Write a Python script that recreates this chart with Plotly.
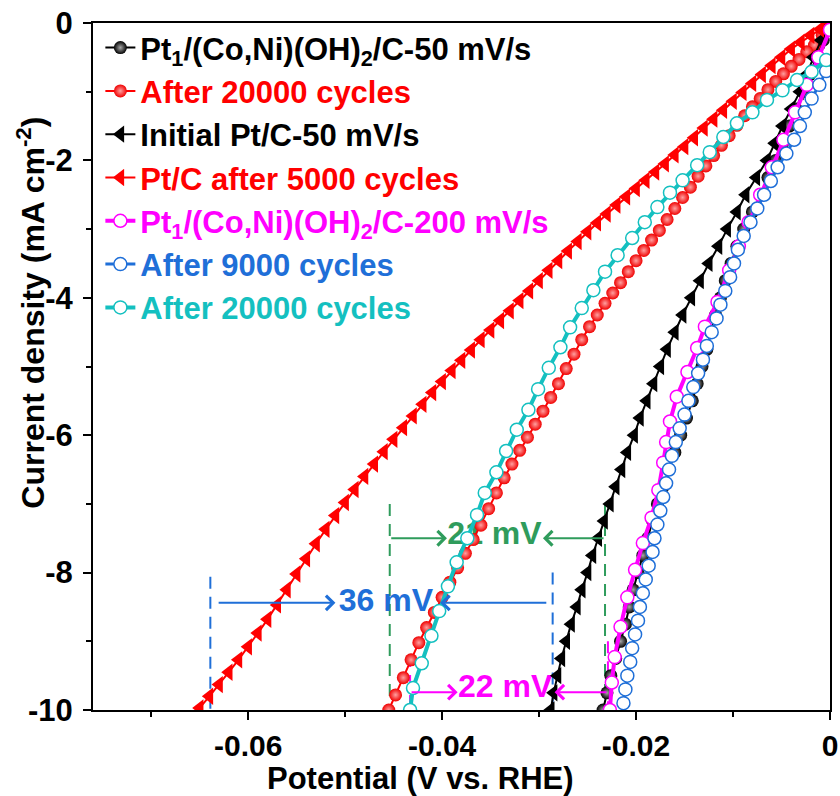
import plotly.graph_objects as go

FONT = "Liberation Sans, Arial, sans-serif"

# ---------------- data (potential V vs RHE, current density mA cm-2) ----------------
# Pt1/(Co,Ni)(OH)2/C-50 mV/s  (black spheres)
pt1_50_j = [0, -0.25, -0.5, -0.75, -1.0, -1.25, -1.5, -1.75, -2.0, -2.25, -2.5, -2.75, -3.0, -3.25,
            -3.5, -3.75, -4.0, -4.25, -4.5, -4.75, -5.0, -5.25, -5.5, -5.75, -6.0, -6.25, -6.5, -6.75,
            -7.0, -7.25, -7.5, -7.75, -8.0, -8.25, -8.5, -8.75, -9.0, -9.25, -9.5, -9.75, -10.0]
pt1_50_v = [0.0, -0.0007, -0.0014, -0.0021, -0.0028, -0.0035, -0.0042, -0.0049, -0.0056, -0.0064,
            -0.0071, -0.0080, -0.0089, -0.0096, -0.0102, -0.0108, -0.0113, -0.0118, -0.0123, -0.0127,
            -0.0132, -0.0137, -0.0142, -0.0148, -0.0154, -0.0160, -0.0166, -0.0172, -0.0178, -0.0183,
            -0.0188, -0.0193, -0.0198, -0.0203, -0.0207, -0.0211, -0.0216, -0.0221, -0.0226, -0.0230,
            -0.0234]

# After 20000 cycles (red spheres)
pt1_20k_v = [0.0, -0.0008, -0.0016, -0.0024, -0.0032, -0.0040, -0.0048, -0.0056, -0.0064, -0.0072,
             -0.0080, -0.0088, -0.0096, -0.0104, -0.0112, -0.0120, -0.0128, -0.0136, -0.0144, -0.0152,
             -0.0160, -0.0168, -0.0176, -0.0184, -0.0192, -0.0200, -0.0208, -0.0216, -0.0224, -0.0232,
             -0.0240, -0.0248, -0.0256, -0.0264, -0.0272, -0.0280, -0.0288, -0.0296, -0.0304, -0.0312,
             -0.0320, -0.0328, -0.0336, -0.0344, -0.0352, -0.0360, -0.0368, -0.0376, -0.0384, -0.0392,
             -0.0400, -0.0408, -0.0416, -0.0424, -0.0432, -0.0440, -0.0448, -0.0455]
pt1_20k_j = [-0.05, -0.18, -0.32, -0.42, -0.53, -0.63, -0.74, -0.85, -0.97, -1.10,
             -1.22, -1.35, -1.49, -1.64, -1.78, -1.93, -2.08, -2.23, -2.39, -2.54,
             -2.70, -2.86, -3.02, -3.16, -3.31, -3.46, -3.62, -3.78, -3.93, -4.08,
             -4.25, -4.42, -4.61, -4.82, -5.03, -5.25, -5.45, -5.65, -5.84, -6.03,
             -6.22, -6.42, -6.62, -6.84, -7.07, -7.31, -7.52, -7.72, -7.93, -8.14,
             -8.36, -8.58, -8.80, -9.02, -9.27, -9.53, -9.78, -10.0]

# Initial Pt/C-50 mV/s (black triangles)
ptc_j = [0, -0.25, -0.5, -0.75, -1.0, -1.25, -1.5, -1.75, -2.0, -2.25, -2.5, -2.75, -3.0, -3.25,
         -3.5, -3.75, -4.0, -4.25, -4.5, -4.75, -5.0, -5.25, -5.5, -5.75, -6.0, -6.25, -6.5, -6.75,
         -7.0, -7.25, -7.5, -7.75, -8.0, -8.25, -8.5, -8.75, -9.0, -9.25, -9.5, -9.75, -10.0]
ptc_v = [0.0, -0.0009, -0.0017, -0.0024, -0.0031, -0.0040, -0.0049, -0.0057, -0.0065, -0.0076,
         -0.0087, -0.0096, -0.0106, -0.0115, -0.0125, -0.0134, -0.0143, -0.0152, -0.0160, -0.0168,
         -0.0175, -0.0182, -0.0189, -0.0196, -0.0202, -0.0209, -0.0215, -0.0221, -0.0227, -0.0233,
         -0.0239, -0.0245, -0.0250, -0.0256, -0.0261, -0.0267, -0.0272, -0.0277, -0.0281, -0.0285,
         -0.0288]

# Pt/C after 5000 cycles (red triangles)
ptc_5k_v = [0.0, -0.001, -0.002, -0.003, -0.004, -0.005, -0.006, -0.007, -0.008, -0.009,
            -0.010, -0.011, -0.012, -0.013, -0.014, -0.015, -0.016, -0.017, -0.018, -0.019,
            -0.020, -0.021, -0.022, -0.023, -0.024, -0.025, -0.026, -0.027, -0.028, -0.029,
            -0.030, -0.031, -0.032, -0.033, -0.034, -0.035, -0.036, -0.037, -0.038, -0.039,
            -0.040, -0.041, -0.042, -0.043, -0.044, -0.045, -0.046, -0.047, -0.048, -0.049,
            -0.050, -0.051, -0.052, -0.053, -0.054, -0.055, -0.056, -0.057, -0.058, -0.059,
            -0.060, -0.061, -0.062, -0.063, -0.064, -0.065]
ptc_5k_j = [0.0, -0.09, -0.18, -0.28, -0.38, -0.50, -0.62, -0.75, -0.88, -1.01,
            -1.14, -1.27, -1.40, -1.53, -1.67, -1.80, -1.92, -2.05, -2.17, -2.29,
            -2.41, -2.53, -2.65, -2.78, -2.91, -3.04, -3.18, -3.32, -3.46, -3.60,
            -3.75, -3.90, -4.04, -4.19, -4.33, -4.47, -4.61, -4.76, -4.91, -5.06,
            -5.22, -5.38, -5.55, -5.72, -5.89, -6.06, -6.24, -6.42, -6.60, -6.79,
            -6.98, -7.17, -7.37, -7.58, -7.80, -8.02, -8.25, -8.47, -8.68, -8.88,
            -9.08, -9.27, -9.45, -9.63, -9.80, -9.97]

# Pt1/(Co,Ni)(OH)2/C-200 mV/s (magenta open circles)
pt1_200_v = [0.0, -0.0012, -0.0024, -0.0036, -0.0048, -0.0060, -0.0072, -0.0084, -0.0094, -0.0104,
             -0.0116, -0.0129, -0.0137, -0.0147, -0.0158, -0.0165, -0.0169, -0.0172, -0.0177, -0.0184,
             -0.0193, -0.0201, -0.0209, -0.0216, -0.0222, -0.0225, -0.0227]
pt1_200_j = [-0.10, -0.50, -0.90, -1.30, -1.70, -2.10, -2.50, -2.90, -3.25, -3.60,
             -4.06, -4.42, -4.73, -5.08, -5.44, -5.80, -6.10, -6.40, -6.80, -7.20,
             -7.57, -7.96, -8.36, -8.79, -9.23, -9.60, -10.0]

# After 9000 cycles (blue open circles)
pt1_9k_j = [-0.7, -0.9, -1.1, -1.3, -1.5, -1.7, -1.9, -2.1, -2.3, -2.5, -2.7, -2.9, -3.1, -3.3,
            -3.5, -3.7, -3.9, -4.1, -4.3, -4.5, -4.7, -4.9, -5.1, -5.3, -5.5, -5.7, -5.9, -6.1,
            -6.3, -6.5, -6.7, -6.9, -7.1, -7.3, -7.5, -7.7, -7.9, -8.1, -8.3, -8.5, -8.7, -8.9,
            -9.1, -9.3, -9.5, -9.7, -9.9]
pt1_9k_v = [-0.0004, -0.0011, -0.0019, -0.0026, -0.0031, -0.0037, -0.0045, -0.0054, -0.0061, -0.0068,
            -0.0075, -0.0082, -0.0089, -0.0095, -0.0099, -0.0103, -0.0108, -0.0113, -0.0117, -0.0122,
            -0.0127, -0.0131, -0.0136, -0.0141, -0.0146, -0.0150, -0.0155, -0.0159, -0.0163, -0.0166,
            -0.0169, -0.0172, -0.0175, -0.0178, -0.0181, -0.0183, -0.0187, -0.0190, -0.0193, -0.0196,
            -0.0198, -0.0201, -0.0204, -0.0206, -0.0209, -0.0211, -0.0213]

# After 20000 cycles, 200 mV/s (cyan open circles)
pt1_200_20k_v = [-0.0004, -0.0019, -0.0034, -0.0049, -0.0065, -0.0080, -0.0096, -0.0110, -0.0124, -0.0137,
                 -0.0152, -0.0165, -0.0178, -0.0191, -0.0204, -0.0219, -0.0232, -0.0244, -0.0256, -0.0268,
                 -0.0278, -0.0290, -0.0301, -0.0311, -0.0323, -0.0334, -0.0344, -0.0356, -0.0364, -0.0374,
                 -0.0385, -0.0394, -0.0403, -0.0411, -0.0421, -0.0430, -0.0433]
pt1_200_20k_j = [-0.54, -0.71, -0.83, -0.98, -1.12, -1.30, -1.46, -1.66, -1.88, -2.07,
                 -2.29, -2.47, -2.68, -2.90, -3.13, -3.38, -3.62, -3.89, -4.15, -4.43,
                 -4.72, -5.02, -5.33, -5.63, -5.92, -6.23, -6.54, -6.84, -7.16, -7.50,
                 -7.85, -8.20, -8.56, -8.92, -9.32, -9.68, -10.0]

# overpotential-gap annotations
gap_labels = ["36 mV", "21 mV", "22 mV"]
gap_left_v = [-0.0639, -0.0454, -0.0433]
gap_right_v = [-0.0286, -0.0232, -0.0229]
gap_left_top = [-8.06, -7.00, -9.20]
gap_right_top = [-8.00, -7.00, -9.00]
gap_arrow_j = [-8.44, -7.50, -9.74]
gap_left_tail = [-0.0632, -0.0454, -0.0433]
gap_left_head = [-0.0510, -0.0395, -0.0384]
gap_right_tail = [-0.0291, -0.0232, -0.0229]
gap_right_head = [-0.0402, -0.0296, -0.0284]
gap_text_v = [-0.0458, -0.0346, -0.0335]
gap_text_j = [-8.44, -7.47, -9.70]

# axis ticks
x_tickvals = [-0.06, -0.04, -0.02, 0]
x_ticktext = ["-0.06", "-0.04", "-0.02", "0"]
x_minor = [-0.07, -0.05, -0.03, -0.01]
y_tickvals = [0, -2, -4, -6, -8, -10]
y_ticktext = ["0", "-2", "-4", "-6", "-8", "-10"]
y_minor = [-1, -3, -5, -7, -9]

BLACK = "#000000"
RED = "#ff0000"
MAGENTA = "#ff00ff"
BLUE = "#1f6fd8"
CYAN = "#14c0c0"
GREEN = "#2f9c5c"
gap_colors = [BLUE, GREEN, MAGENTA]

fig = go.Figure()

# labels of the gaps (beneath curves)
for i in range(3):
    fig.add_trace(go.Scatter(
        x=[gap_text_v[i]], y=[gap_text_j[i]], mode="text", text=[gap_labels[i]],
        textfont=dict(family=FONT, size=32, color=gap_colors[i], weight="bold"),
        showlegend=False, hoverinfo="skip"))


def lbl(txt, col):
    return f'<span style="color:{col}">{txt}</span>'


fig.add_trace(go.Scatter(
    x=pt1_50_v, y=pt1_50_j, mode="lines+markers",
    name=lbl("Pt<sub>1</sub>/(Co,Ni)(OH)<sub>2</sub>/C-50 mV/s", BLACK),
    line=dict(color=BLACK, width=2),
    marker=dict(symbol="circle", size=13, color=BLACK,
                gradient=dict(type="radial", color="#a8a8a8"), line=dict(width=0))))

fig.add_trace(go.Scatter(
    x=pt1_20k_v, y=pt1_20k_j, mode="lines+markers",
    name=lbl("After 20000 cycles", RED),
    line=dict(color=RED, width=2),
    marker=dict(symbol="circle", size=13, color="#f00000",
                gradient=dict(type="radial", color="#ffa0a0"), line=dict(width=0))))

fig.add_trace(go.Scatter(
    x=ptc_v, y=ptc_j, mode="lines+markers",
    name=lbl("Initial Pt/C-50 mV/s", BLACK),
    line=dict(color=BLACK, width=2),
    marker=dict(symbol="triangle-left", size=15, color=BLACK, line=dict(width=0))))

fig.add_trace(go.Scatter(
    x=ptc_5k_v, y=ptc_5k_j, mode="lines+markers",
    name=lbl("Pt/C after 5000 cycles", RED),
    line=dict(color=RED, width=2),
    marker=dict(symbol="triangle-left", size=15, color=RED, line=dict(width=0))))

fig.add_trace(go.Scatter(
    x=pt1_200_v, y=pt1_200_j, mode="lines+markers",
    name=lbl("Pt<sub>1</sub>/(Co,Ni)(OH)<sub>2</sub>/C-200 mV/s", MAGENTA),
    line=dict(color=MAGENTA, width=4),
    marker=dict(symbol="circle", size=13, color="white", line=dict(color=MAGENTA, width=1.5))))

fig.add_trace(go.Scatter(
    x=pt1_9k_v, y=pt1_9k_j, mode="lines+markers",
    name=lbl("After 9000 cycles", BLUE),
    line=dict(color=BLUE, width=3),
    marker=dict(symbol="circle", size=13, color="white", line=dict(color=BLUE, width=1.5))))

fig.add_trace(go.Scatter(
    x=pt1_200_20k_v, y=pt1_200_20k_j, mode="lines+markers",
    name=lbl("After 20000 cycles", CYAN),
    line=dict(color=CYAN, width=4),
    marker=dict(symbol="circle", size=13, color="white", line=dict(color=CYAN, width=1.5))))

shapes = []
annotations = []
for i in range(3):
    c = gap_colors[i]
    shapes.append(dict(type="line", xref="x", yref="y", x0=gap_left_v[i], x1=gap_left_v[i],
                       y0=gap_left_top[i], y1=-10, line=dict(color=c, width=2, dash="12px,8px"),
                       layer="below"))
    shapes.append(dict(type="line", xref="x", yref="y", x0=gap_right_v[i], x1=gap_right_v[i],
                       y0=gap_right_top[i], y1=-10, line=dict(color=c, width=2, dash="12px,8px"),
                       layer="below"))
    annotations.append(dict(x=gap_left_head[i], y=gap_arrow_j[i], ax=gap_left_tail[i], ay=gap_arrow_j[i],
                            xref="x", yref="y", axref="x", ayref="y", text="", showarrow=True,
                            arrowhead=4, arrowsize=1.4, arrowwidth=2, arrowcolor=c, standoff=0))
    annotations.append(dict(x=gap_right_head[i], y=gap_arrow_j[i], ax=gap_right_tail[i], ay=gap_arrow_j[i],
                            xref="x", yref="y", axref="x", ayref="y", text="", showarrow=True,
                            arrowhead=4, arrowsize=1.4, arrowwidth=2, arrowcolor=c, standoff=0))

# axis titles
annotations.append(dict(text="Potential (V vs. RHE)", xref="paper", yref="paper",
                        x=0.4437, y=-0.0990, xanchor="center", yanchor="middle", showarrow=False,
                        font=dict(family=FONT, size=31, color="black", weight="bold")))
annotations.append(dict(text="Current density (mA cm<sup>-2</sup>)", xref="paper", yref="paper",
                        x=-0.0845, y=0.578, xanchor="center", yanchor="middle", showarrow=False,
                        textangle=-90,
                        font=dict(family=FONT, size=32, color="black", weight="bold")))

axis_common = dict(showline=True, linewidth=2, linecolor="black", mirror=True,
                   ticks="outside", ticklen=8, tickwidth=2, tickcolor="black",
                   showgrid=False, zeroline=False, automargin=False)

fig.update_layout(
    width=840, height=796,
    margin=dict(l=93, r=10, t=23, b=86),
    paper_bgcolor="white", plot_bgcolor="white",
    font=dict(family=FONT, size=31, color="black", weight="bold"),
    xaxis=dict(range=[-0.076, 0], tickmode="array", tickvals=x_tickvals, ticktext=x_ticktext,
               minor=dict(tickmode="array", tickvals=x_minor, ticks="outside", ticklen=5,
                          tickwidth=2, tickcolor="black"),
               ticklabelstandoff=0,
               tickfont=dict(family=FONT, size=30, color="black", weight="bold"),
               **axis_common),
    yaxis=dict(range=[-10, 0], tickmode="array", tickvals=y_tickvals, ticktext=y_ticktext,
               minor=dict(tickmode="array", tickvals=y_minor, ticks="outside", ticklen=5,
                          tickwidth=2, tickcolor="black"),
               ticklabelstandoff=4,
               tickfont=dict(family=FONT, size=31, color="black", weight="bold"),
               **axis_common),
    legend=dict(x=0.01, y=1.003, xanchor="left", yanchor="top", bgcolor="rgba(0,0,0,0)",
                font=dict(family=FONT, size=31, color="black", weight="bold"),
                itemwidth=30, tracegroupgap=0),
    shapes=shapes,
    annotations=annotations,
)

fig.write_html("out.html")
